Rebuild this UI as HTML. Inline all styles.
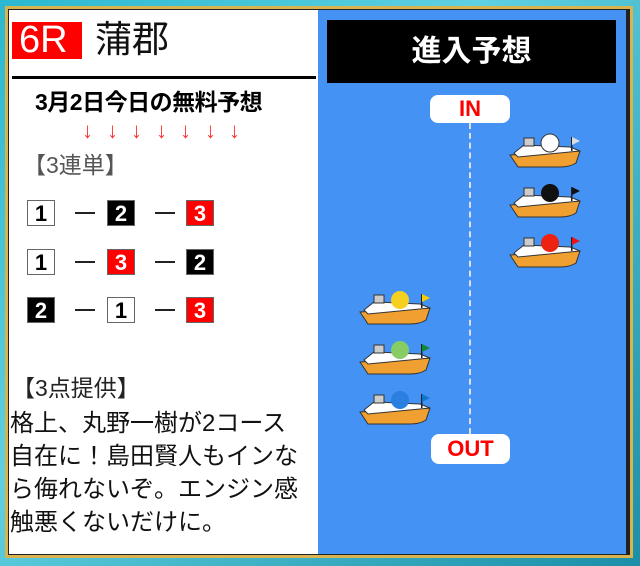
<!DOCTYPE html>
<html><head><meta charset="utf-8"><style>
*{margin:0;padding:0;box-sizing:border-box}
body{width:640px;height:566px;overflow:hidden;background:linear-gradient(135deg,#2bb8d0,#5fd0e0 40%,#1b8fa8);font-family:"Liberation Sans","Noto Sans CJK JP",sans-serif;position:relative}
.frame{position:absolute;left:5px;top:6px;width:628px;height:552px;border:3px solid #d8b450;background:#222}
.left{position:absolute;left:9px;top:10px;width:309px;height:544px;background:#fff}
.right{position:absolute;left:318px;top:10px;width:308px;height:544px;background:#4592f5}
.a{position:absolute;white-space:nowrap}
.box{position:absolute;width:28px;height:26px;font:bold 22px/26px "Liberation Sans",sans-serif;text-align:center;border:1px solid #666}
.w{background:#fff;color:#000}.k{background:#000;color:#fff}.r{background:#f00;color:#fff}
.d{position:absolute;width:20px;height:2px;background:#222}
.ar{position:absolute;top:117px;color:#f33;font-size:22px;line-height:28px}
</style></head><body>
<div class="frame"></div>
<div class="left"></div>
<div class="right"></div>
<div class="a" style="left:12px;top:22px;width:70px;height:37px;background:#f00;color:#fff;font-size:38px;line-height:37px;padding-left:7px">6R</div>
<div class="a" style="left:95px;top:18px;font-size:37px;line-height:44px;color:#111">蒲郡</div>
<div class="a" style="left:12px;top:76px;width:304px;height:3px;background:#000"></div>
<div class="a" style="left:35px;top:88px;font-weight:bold;font-size:23px;line-height:28px;letter-spacing:-0.5px">3月2日今日の無料予想</div>
<div class="ar" style="left:82px">↓</div><div class="ar" style="left:107px">↓</div><div class="ar" style="left:131px">↓</div><div class="ar" style="left:156px">↓</div><div class="ar" style="left:180px">↓</div><div class="ar" style="left:205px">↓</div><div class="ar" style="left:229px">↓</div>
<div class="a" style="left:23px;top:151px;color:#555;font-size:23px;line-height:28px">【3連単】</div>
<div class="box w" style="left:27px;top:200px">1</div><div class="d" style="left:75px;top:212px"></div>
<div class="box k" style="left:107px;top:200px">2</div><div class="d" style="left:155px;top:212px"></div>
<div class="box r" style="left:186px;top:200px">3</div>
<div class="box w" style="left:27px;top:249px">1</div><div class="d" style="left:75px;top:261px"></div>
<div class="box r" style="left:107px;top:249px">3</div><div class="d" style="left:155px;top:261px"></div>
<div class="box k" style="left:186px;top:249px">2</div>
<div class="box k" style="left:27px;top:297px">2</div><div class="d" style="left:75px;top:309px"></div>
<div class="box w" style="left:107px;top:297px">1</div><div class="d" style="left:155px;top:309px"></div>
<div class="box r" style="left:186px;top:297px">3</div>
<div class="a" style="left:12px;top:374px;font-size:23px;line-height:28px;color:#222">【3点提供】</div>
<div class="a" style="left:10px;top:407px;font-size:24px;line-height:33px;color:#111">格上、丸野一樹が2コース<br>自在に！島田賢人もインな<br>ら侮れないぞ。エンジン感<br>触悪くないだけに。</div>
<div class="a" style="left:327px;top:20px;width:289px;height:63px;background:#000;color:#fff;font-weight:bold;font-size:30px;line-height:63px;text-align:center">進入予想</div>
<div class="a" style="left:430px;top:95px;width:80px;height:28px;background:#fff;border-radius:8px;color:#f00;font-weight:bold;font-size:22px;line-height:28px;text-align:center">IN</div>
<div class="a" style="left:431px;top:434px;width:79px;height:30px;background:#fff;border-radius:8px;color:#f00;font-weight:bold;font-size:22px;line-height:30px;text-align:center">OUT</div>
<div class="a" style="left:469px;top:123px;height:311px;border-left:2px dashed #dde"></div>
<svg class="a" style="left:0;top:0" width="640" height="566">
<defs><g id="b">
<path d="M0 22 L70 18 L66 30 Q60 34 50 34 L8 34 Z" fill="#f0a030" stroke="#333" stroke-width="1"/>
<path d="M4 20 L14 12 L60 14 L70 18 L8 24 Z" fill="#fff" stroke="#333" stroke-width="1"/>
<rect x="14" y="5" width="10" height="8" fill="#ccc" stroke="#333" stroke-width="1"/>
<rect x="61" y="4" width="1.5" height="14" fill="#222"/>
</g></defs>
<g transform="translate(510,133)"><use href="#b"/><circle cx="40" cy="10" r="9" fill="#fff" stroke="#333"/><path d="M62 4 L70 8 L62 12Z" fill="#ddd"/></g>
<g transform="translate(510,183)"><use href="#b"/><circle cx="40" cy="10" r="9" fill="#111"/><path d="M62 4 L70 8 L62 12Z" fill="#111"/></g>
<g transform="translate(510,233)"><use href="#b"/><circle cx="40" cy="10" r="9" fill="#e21"/><path d="M62 4 L70 8 L62 12Z" fill="#e11"/></g>
<g transform="translate(360,290)"><use href="#b"/><circle cx="40" cy="10" r="9" fill="#f5d020"/><path d="M62 4 L70 8 L62 12Z" fill="#fc0"/></g>
<g transform="translate(360,340)"><use href="#b"/><circle cx="40" cy="10" r="9" fill="#8c6"/><path d="M62 4 L70 8 L62 12Z" fill="#183"/></g>
<g transform="translate(360,390)"><use href="#b"/><circle cx="40" cy="10" r="9" fill="#2a7fe0"/><path d="M62 4 L70 8 L62 12Z" fill="#17c"/></g>
</svg>
</body></html>
